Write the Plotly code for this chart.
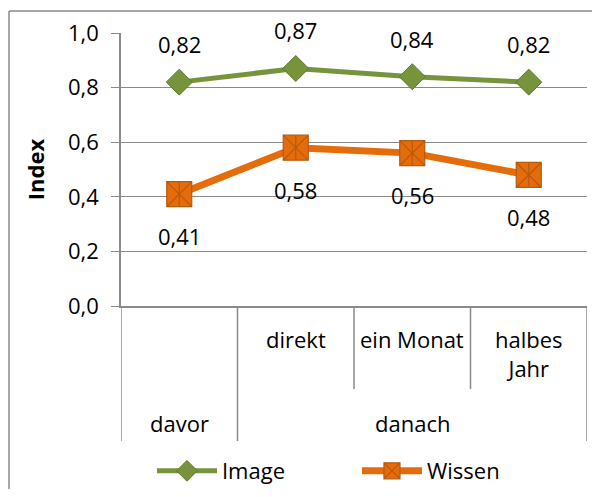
import plotly.graph_objects as go

# ---- data ----
outer_groups = ["davor", "danach"]
outer_group_span = [(0, 0), (1, 3)]          # category index ranges of each outer group
inner_labels = ["", "direkt", "ein Monat", "halbes<br>Jahr"]
image_vals = [0.82, 0.87, 0.84, 0.82]
wissen_vals = [0.41, 0.58, 0.56, 0.48]
y_ticks = [0.0, 0.2, 0.4, 0.6, 0.8, 1.0]

GREEN = "#77933C"
GREEN_DARK = "#5E7A2C"
ORANGE = "#E46C0A"
ORANGE_DARK = "#B85A0C"
GRAY = "#8A8A8A"
FONT = "Open Sans"
FS = 22

x = list(range(len(image_vals)))

fig = go.Figure()
fig.add_trace(go.Scatter(
    x=x, y=image_vals, name="Image", mode="lines+markers",
    line=dict(color=GREEN, width=5),
    marker=dict(symbol="diamond", size=20, color=GREEN, line=dict(color=GREEN_DARK, width=1)),
))
fig.add_trace(go.Scatter(
    x=x, y=wissen_vals, name="Wissen", mode="lines+markers",
    line=dict(color=ORANGE, width=7),
    marker=dict(symbol="square-x", size=25, color=ORANGE, line=dict(color=ORANGE_DARK, width=1.2)),
))
fig.add_trace(go.Scatter(
    x=x, y=wissen_vals, mode="markers", showlegend=False, hoverinfo="skip",
    marker=dict(symbol="line-ns-open", size=17, color=ORANGE_DARK, line=dict(color=ORANGE_DARK, width=1.2)),
))

def fmt(v):
    return f"{v:.2f}".replace(".", ",")

annotations = []
for xi, v in zip(x, image_vals):
    annotations.append(dict(x=xi, y=v, xref="x", yref="y", text=fmt(v), showarrow=False,
                            yshift=38, font=dict(family=FONT, size=FS, color="black")))
for xi, v in zip(x, wissen_vals):
    annotations.append(dict(x=xi, y=v, xref="x", yref="y", text=fmt(v), showarrow=False,
                            yshift=-42, font=dict(family=FONT, size=FS, color="black")))

# inner category labels
for xi, lab in zip(x, inner_labels):
    if lab:
        annotations.append(dict(x=xi, y=-0.06, xref="x", yref="paper", text=lab, showarrow=False,
                                yanchor="top", font=dict(family=FONT, size=FS, color="black")))
# outer group labels
for name, (a, b) in zip(outer_groups, outer_group_span):
    annotations.append(dict(x=(a + b) / 2, y=-0.4286, xref="x", yref="paper", text=name,
                            showarrow=False, yanchor="middle",
                            font=dict(family=FONT, size=FS, color="black")))

shapes = []
long_bounds = sorted({a - 0.5 for a, b in outer_group_span} | {b + 0.5 for a, b in outer_group_span})
for bx in [i - 0.5 for i in range(len(x) + 1)]:
    y1 = -0.4945 if bx in long_bounds else -0.304
    shapes.append(dict(type="line", xref="x", yref="paper", x0=bx, x1=bx, y0=0, y1=y1,
                       line=dict(color=GRAY, width=1.5)))
# outer chart border: only left and top edges are inside the picture
shapes.append(dict(type="line", xref="paper", yref="paper", x0=-0.2403, x1=-0.2403, y0=-1.2, y1=1.0806,
                   line=dict(color=GRAY, width=1.5), layer="below"))
shapes.append(dict(type="line", xref="paper", yref="paper", x0=-0.2403, x1=1.4, y0=1.0806, y1=1.0806,
                   line=dict(color=GRAY, width=1.5), layer="below"))

fig.update_layout(
    width=592, height=481,
    margin=dict(l=113, r=13, t=25, b=183, autoexpand=False),
    plot_bgcolor="white", paper_bgcolor="white",
    font=dict(family=FONT, size=FS, color="black"),
    separators=", ",
    showlegend=True,
    legend=dict(orientation="h", xref="container", yref="container", x=0.2432, xanchor="left",
                y=0.0374, yanchor="middle", itemwidth=60, entrywidth=130,
                font=dict(family=FONT, size=FS, color="black"), bgcolor="rgba(0,0,0,0)"),
    annotations=annotations,
    shapes=shapes,
    xaxis=dict(range=[-0.5, len(x) - 0.5], showgrid=False, zeroline=False, showticklabels=False,
               ticks="", showline=True, linecolor=GRAY, linewidth=1.5, fixedrange=True, automargin=False),
    yaxis=dict(range=[0, 1.0], tickvals=y_ticks, tickformat=".1f", showgrid=True, gridcolor=GRAY,
               gridwidth=1.3, zeroline=False, showline=True, linecolor=GRAY, linewidth=1.5,
               ticks="outside", ticklen=8, tickcolor=GRAY, tickwidth=1.3,
               ticklabelstandoff=8, automargin=False,
               title=dict(text="<b>Index</b>", standoff=17, font=dict(family=FONT, size=FS))),
)

fig.write_html("out.html")
